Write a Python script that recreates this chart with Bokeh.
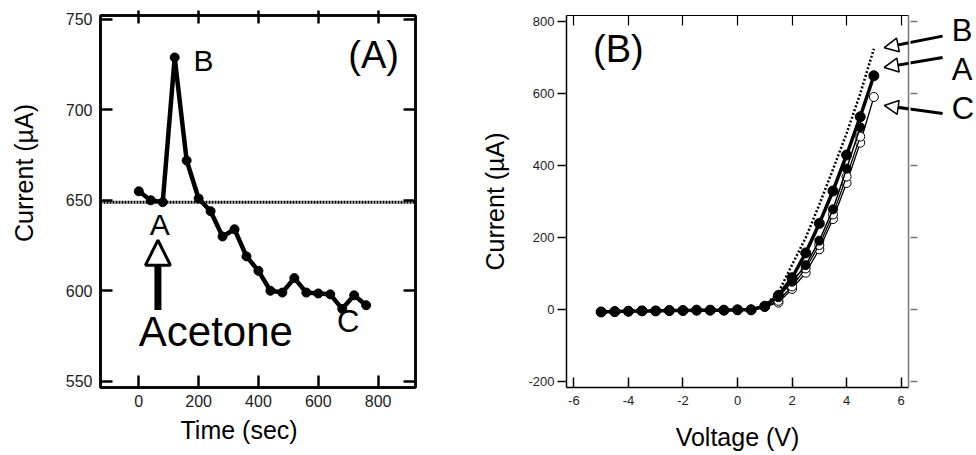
import math
from bokeh.plotting import figure
from bokeh.layouts import row
from bokeh.models import (Range1d, FixedTicker, LinearAxis, Label, Arrow, NormalHead, Span, Title,
                          CustomLabelingPolicy)
from bokeh.embed import file_html
from bokeh.resources import INLINE

FONT = "Liberation Sans"

# ---------------- Panel A data ----------------
time_s = [0, 40, 80, 120, 160, 200, 240, 280, 320, 360, 400, 440, 480, 520, 560, 600, 640, 680, 720, 760]
current_a = [655, 650, 649, 729, 672, 651, 644, 630, 634, 619, 611, 600, 599, 607, 599, 598.5, 598, 590, 597.5, 592]
baseline_a = 649
a_xticks = [0, 200, 400, 600, 800]
a_yticks = [550, 600, 650, 700, 750]

# ---------------- Panel B data ----------------
voltage = [-5.0, -4.5, -4.0, -3.5, -3.0, -2.5, -2.0, -1.5, -1.0, -0.5, 0.0, 0.5,
           1.0, 1.5, 2.0, 2.5, 3.0, 3.5, 4.0, 4.5, 5.0]
low = [-6, -5, -4, -3, -3, -2, -2, -1, -1, -1, 0, 0]
iv_B = low + [12, 48, 125, 200, 292, 390, 490, 600, 725]      # dotted, peak
iv_A = low + [10, 40, 89, 158, 240, 330, 430, 536, 650]       # thick, filled
iv_A2 = low + [9, 35, 78, 124, 192, 279, 392, 507]            # thin, filled
iv_C2 = low + [8, 25, 65, 115, 180, 265, 370, 481]            # thin, open
iv_C = low + [8, 20, 58, 103, 168, 252, 352, 464, 591]        # thin, open
b_xticks = [-6, -4, -2, 0, 2, 4, 6]
b_yticks = [-200, 0, 200, 400, 600, 800]
side_labels = ["B", "A", "C"]
side_label_y = [776, 668, 558]
arrow_tail_y = [760, 700.5, 545]
arrow_tip_y = [728, 673, 567.6]

A_X = (-128, 925)
A_Y = (546.5, 752.2)
B_X = (-6.27, 6.27)
B_Y = (-215.7, 817.3)
PX_PER_V = 342 / (B_X[1] - B_X[0])

NO_LABELS = """
for (const i of [...indices]) { indices.unset(i) }
return indices
"""


def style_axis(ax, width, tin, tout, color="black"):
    ax.axis_line_width = width
    ax.axis_line_color = color
    ax.major_tick_line_width = width
    ax.major_tick_line_color = color
    ax.major_tick_in = tin
    ax.major_tick_out = tout
    ax.minor_tick_line_color = None


def blank_axis(ticks, width, tin, tout, color="black"):
    ax = LinearAxis(ticker=FixedTicker(ticks=ticks))
    style_axis(ax, width, tin, tout, color)
    ax.major_label_text_font_size = "0px"
    ax.major_label_standoff = 0
    ax.major_label_policy = CustomLabelingPolicy(code=NO_LABELS)
    return ax


def bare(fig):
    fig.grid.visible = False
    fig.outline_line_color = None
    fig.background_fill_color = None
    fig.border_fill_color = None


lbl = dict(text_font=FONT, text_color="black", text_baseline="middle")

# ================= left strip (title of panel A's y axis) =================
pL = figure(width=40, height=455, x_range=Range1d(0, 40), y_range=Range1d(*A_Y),
            output_backend="svg", toolbar_location=None, x_axis_location=None, y_axis_location=None,
            min_border_left=0, min_border_right=0, min_border_top=15, min_border_bottom=68)
bare(pL)
pL.add_layout(Label(x=23.3, y=665.1, text="Current (µA)", text_font_size="25px", angle=math.pi / 2,
                    text_align="center", **lbl))

# ================= Panel A =================
pA = figure(width=438, height=455, x_range=Range1d(*A_X), y_range=Range1d(*A_Y),
            output_backend="svg", toolbar_location=None,
            min_border_left=60, min_border_right=63, min_border_top=15, min_border_bottom=68)
bare(pA)
pA.outline_line_color = "black"
pA.outline_line_width = 2.5

pA.xaxis.ticker = FixedTicker(ticks=a_xticks)
pA.yaxis.ticker = FixedTicker(ticks=a_yticks)
for ax in pA.xaxis + pA.yaxis:
    style_axis(ax, 2.5, 12, 0)
    ax.major_label_text_font = FONT
    ax.major_label_text_font_size = "16px"
    ax.major_label_text_color = "#222"
pA.yaxis.major_label_standoff = 8
pA.xaxis.major_label_standoff = 7
pA.add_layout(blank_axis(a_xticks, 2.5, 8, 5), "above")
pA.add_layout(blank_axis(a_yticks, 2.5, 12, 0), "right")

pA.add_layout(Title(text="Time (sec)", align="left", offset=80, standoff=9,
                    text_font=FONT, text_font_size="25px", text_font_style="normal",
                    text_color="black"), "below")

pA.add_layout(Span(location=baseline_a, dimension="width", line_color="black",
                   line_width=3, line_dash="2 1"))
pA.line(time_s, current_a, line_color="black", line_width=4.5)
pA.scatter(time_s, current_a, size=9, color="black")

pA.add_layout(Label(x=785, y=730.1, text="(A)", text_font_size="38px", text_align="center", **lbl))
pA.add_layout(Label(x=216, y=727.1, text="B", text_font_size="30px", text_align="center", **lbl))
pA.add_layout(Label(x=70, y=636.7, text="A", text_font_size="30px", text_align="center", **lbl))
pA.add_layout(Label(x=700, y=582.9, text="C", text_font_size="31px", text_align="center", **lbl))
pA.add_layout(Label(x=0, y=577.3, text="Acetone", text_font_size="42px", text_align="left", **lbl))
pA.add_layout(Arrow(x_start=64, y_start=589.3, x_end=64, y_end=627.9, line_width=7,
                    line_color="black",
                    end=NormalHead(size=25, fill_color="white", line_color="black", line_width=3)))

# ================= Panel B =================
pB = figure(width=432, height=455, x_range=Range1d(*B_X), y_range=Range1d(*B_Y),
            output_backend="svg", toolbar_location=None,
            min_border_left=88, min_border_right=2, min_border_top=11, min_border_bottom=68)
bare(pB)

pB.xaxis.ticker = FixedTicker(ticks=b_xticks)
pB.yaxis.ticker = FixedTicker(ticks=b_yticks)
pB.xaxis.major_label_overrides = {t: str(t) for t in b_xticks}
pB.yaxis.major_label_overrides = {t: str(t) for t in b_yticks}
style_axis(pB.xaxis[0], 1.5, 10, 0)
style_axis(pB.yaxis[0], 1.5, 0, 9)
for ax in pB.xaxis + pB.yaxis:
    ax.major_label_text_font = FONT
    ax.major_label_text_font_size = "13px"
    ax.major_label_text_color = "#222"
    ax.axis_label_text_font = FONT
    ax.axis_label_text_font_size = "25px"
    ax.axis_label_text_font_style = "normal"
    ax.axis_label_text_color = "black"
pB.xaxis.axis_label = "Voltage (V)"
pB.yaxis.axis_label = "Current (µA)"
pB.xaxis.major_label_standoff = 8
pB.xaxis.axis_label_standoff = 15
pB.yaxis.major_label_standoff = 3
pB.yaxis.axis_label_standoff = 16
pB.add_layout(blank_axis(b_xticks, 1.2, 10, 0), "above")
pB.add_layout(blank_axis(b_yticks, 1.5, 0, 0, "#777"), "right")

pB.line(voltage, iv_B, line_color="black", line_width=2.5, line_dash="2 2")
pB.line(voltage, iv_C, line_color="black", line_width=1.3)
pB.scatter(voltage, iv_C, size=9, fill_color="white", line_color="black", line_width=1)
pB.line(voltage[:len(iv_C2)], iv_C2, line_color="black", line_width=1.3)
pB.scatter(voltage[:len(iv_C2)], iv_C2, size=9, fill_color="white", line_color="black", line_width=1)
pB.line(voltage[:len(iv_A2)], iv_A2, line_color="black", line_width=1.5)
pB.scatter(voltage[:len(iv_A2)], iv_A2, size=9, color="black")
pB.line(voltage, iv_A, line_color="black", line_width=3.5)
pB.scatter(voltage, iv_A, size=10, color="black")

pB.add_layout(Label(x=-4.37, y=723.4, text="(B)", text_font_size="38px", text_align="center", **lbl))

# ================= right strip (continuation of panel B's x scale) =================
r_x0 = B_X[1] + 2 / PX_PER_V
pR = figure(width=66, height=455, x_range=Range1d(r_x0, r_x0 + 66 / PX_PER_V), y_range=Range1d(*B_Y),
            output_backend="svg", toolbar_location=None, x_axis_location=None, y_axis_location=None,
            min_border_left=0, min_border_right=0, min_border_top=11, min_border_bottom=68)
bare(pR)
rax = blank_axis(b_yticks, 1.5, 7, 0, "#777")
rax.axis_line_color = None
pR.add_layout(rax, "left")

tip_x = 5.38
tail_x = 7.52
label_x = 7.86
for txt, ly, ys, ye in zip(side_labels, side_label_y, arrow_tail_y, arrow_tip_y):
    for fig in (pB, pR):
        fig.add_layout(Arrow(x_start=tail_x, y_start=ys, x_end=tip_x, y_end=ye, line_width=3,
                             line_color="black",
                             end=NormalHead(size=14, fill_color="white", line_color="black",
                                            line_width=1.5)))
    pR.add_layout(Label(x=label_x, y=ly, text=txt, text_font_size="31px", text_align="left", **lbl))

layout = row(pL, pA, pB, pR)
open("out.html", "w").write(file_html(layout, INLINE))
